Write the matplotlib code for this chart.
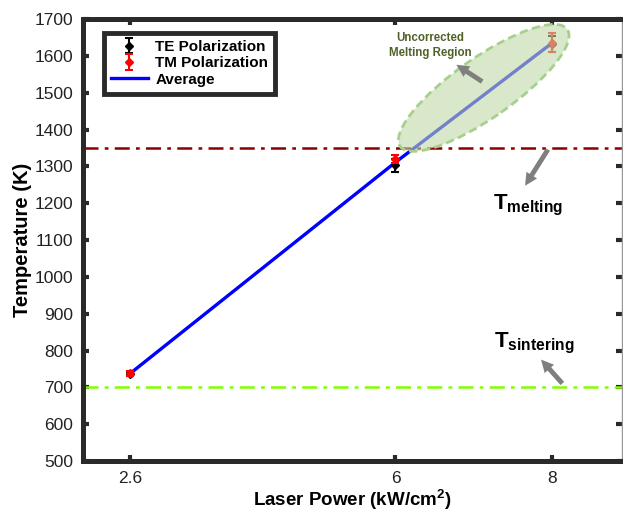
import matplotlib
matplotlib.use('Agg')
from matplotlib import pyplot as plt
from matplotlib.patches import Ellipse
from matplotlib import transforms

plt.rcParams['font.family'] = ['Liberation Sans', 'DejaVu Sans']
plt.rcParams['mathtext.fontset'] = 'custom'
plt.rcParams['mathtext.rm'] = 'Liberation Sans'
plt.rcParams['mathtext.bf'] = 'Liberation Sans:bold'

power = [2.6, 6, 8]
te_temp = [736, 1303, 1632]
te_err = [6, 18, 22]
tm_temp = [738, 1320, 1636]
tm_err = [6, 12, 25]
avg_temp = [737, 1311, 1634]

t_melting = 1350
t_sintering = 700

x_ticks = [2.6, 6, 8]
y_ticks = list(range(500, 1701, 100))

spine_col = '#2a2a2a'

fig = plt.figure(figsize=(6.23, 5.18), dpi=100)
ax = fig.add_axes([0.1332, 0.110, 0.8652, 0.8533])

ax.plot(power, avg_temp, color='blue', lw=2.4, zorder=3, label='Average')
te = ax.errorbar(power, te_temp, yerr=te_err, fmt='D', color='black', ms=4,
                 capsize=3, elinewidth=1.5, capthick=1.5, zorder=4, label='TE Polarization')
tm = ax.errorbar(power, tm_temp, yerr=tm_err, fmt='D', color='red', ms=4,
                 capsize=3, elinewidth=1.5, capthick=1.5, zorder=5, label='TM Polarization')

ax.axhline(t_melting, color='#8b0000', lw=1.8, ls=(0, (6, 2.5, 1.5, 2.5)), zorder=2)
ax.axhline(t_sintering, color='#80ff00', lw=1.8, ls=(0, (6, 2.5, 1.5, 2.5)), zorder=2)

# uncorrected melting region
trans = fig.dpi_scale_trans + transforms.ScaledTranslation(7.13, 1513, ax.transData)
ell = Ellipse((0, 0), 2.04, 0.60, angle=35, transform=trans,
              facecolor=(192/255, 217/255, 168/255, 0.6),
              edgecolor='#a8d08d', lw=2, ls=(0, (3, 1.6)), zorder=6)
ax.add_patch(ell)

arrow = dict(arrowstyle='simple,head_length=0.9,head_width=0.9,tail_width=0.35',
             color='#7f7f7f', lw=0)
ax.annotate('', xy=(6.75, 1580), xytext=(7.14, 1526), arrowprops=arrow, zorder=7)
ax.annotate('', xy=(7.64, 1241), xytext=(7.97, 1352), arrowprops=arrow, zorder=7)
ax.annotate('', xy=(7.84, 781), xytext=(8.16, 705), arrowprops=arrow, zorder=7)

ax.text(6.44, 1628, 'Uncorrected\nMelting Region', color='#4f6228', fontsize=8.3,
        fontweight='bold', ha='center', va='center', linespacing=1.25, zorder=8)
ax.text(7.70, 1195, r'$\mathbf{T}_{\mathbf{melting}}$', fontsize=16,
        ha='center', va='center')
ax.text(7.77, 820, r'$\mathbf{T}_{\mathbf{sintering}}$', fontsize=16,
        ha='center', va='center')

ax.set_xlim(2.0, 8.9)
ax.set_ylim(500, 1700)
ax.set_xticks(x_ticks)
ax.set_xticklabels(['2.6', '6', '8'])
ax.set_yticks(y_ticks)
ax.tick_params(direction='in', length=4, width=3, color=spine_col,
               top=True, right=True, labelsize=12.5, labelcolor='#222222', pad=7)
for s in ax.spines.values():
    s.set_linewidth(3.6)
    s.set_color(spine_col)
ax.spines['right'].set_linewidth(1)
ax.spines['right'].set_color('#999999')

ax.set_xlabel(r'Laser Power (kW/cm$^{\mathbf{2}}$)', fontsize=13.5, fontweight='bold', labelpad=1)
ax.set_ylabel('Temperature (K)', fontsize=14.5, fontweight='bold', labelpad=2)

leg = ax.legend(handles=[te, tm, ax.lines[0]],
                labels=['TE Polarization', 'TM Polarization', 'Average'],
                loc='upper left', bbox_to_anchor=(0.025, 0.985),
                prop={'weight': 'bold', 'size': 11}, fancybox=False,
                handlelength=2.4, handletextpad=0.5, borderpad=0.45,
                labelspacing=0.15, framealpha=1)
leg.get_frame().set_edgecolor(spine_col)
leg.get_frame().set_linewidth(3.5)

fig.savefig('out.png', dpi=100)
